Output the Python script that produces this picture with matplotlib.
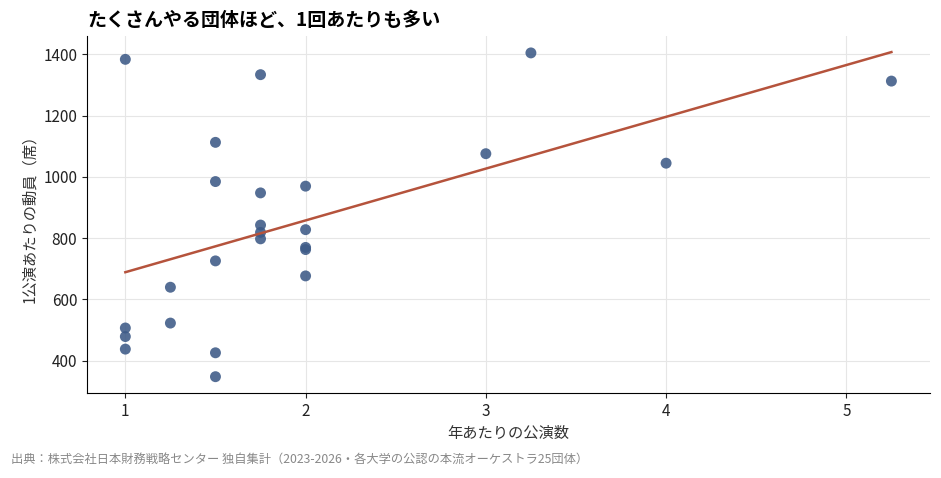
import matplotlib
matplotlib.use("Agg")
import matplotlib.pyplot as plt
import numpy as np

plt.rcParams['font.family'] = ['Noto Sans CJK JP', 'DejaVu Sans']

# data
perf_per_year = [1, 1, 1, 1,
                 1.25, 1.25,
                 1.5, 1.5, 1.5, 1.5, 1.5,
                 1.75, 1.75, 1.75, 1.75, 1.75,
                 2, 2, 2, 2, 2,
                 3, 3.25, 4, 5.25]
attend_per_perf = [1384, 507, 479, 438,
                   640, 523,
                   1113, 985, 726, 426, 348,
                   1334, 948, 843, 819, 798,
                   970, 828, 770, 763, 677,
                   1076, 1405, 1045, 1313]

title = "たくさんやる団体ほど、1回あたりも多い"
xlabel = "年あたりの公演数"
ylabel = "1公演あたりの動員（席）"
source = "出典：株式会社日本財務戦略センター 独自集計（2023-2026・各大学の公認の本流オーケストラ25団体）"

x = np.array(perf_per_year, dtype=float)
y = np.array(attend_per_perf, dtype=float)

fig = plt.figure(figsize=(9.41, 4.78), dpi=100)
ax = fig.add_axes([0.0925, 0.178, 0.8955, 0.747])

ax.scatter(x, y, s=62, color='#3d5a87', alpha=0.88, edgecolors='none', zorder=3)
k, b = np.polyfit(x, y, 1)
xs = np.array([x.min(), x.max()])
ax.plot(xs, k * xs + b, color='#b5533c', lw=1.8, zorder=4)

ax.set_xticks([1, 2, 3, 4, 5])
ax.set_yticks([400, 600, 800, 1000, 1200, 1400])
ax.grid(True, color='#e6e6e6', lw=0.8)
ax.set_axisbelow(True)
for s in ['top', 'right']:
    ax.spines[s].set_visible(False)
ax.tick_params(labelsize=11, colors='#222222')
ax.set_xlabel(xlabel, fontsize=11, color='#333333')
ax.set_ylabel(ylabel, fontsize=11, color='#333333')

fig.text(0.0925, 0.938, title, fontsize=13.7, fontweight='bold', ha='left', va='bottom')
fig.text(0.012, 0.025, source, fontsize=8.8, color='#888888', ha='left', va='bottom')

fig.savefig('out.png', dpi=100)
